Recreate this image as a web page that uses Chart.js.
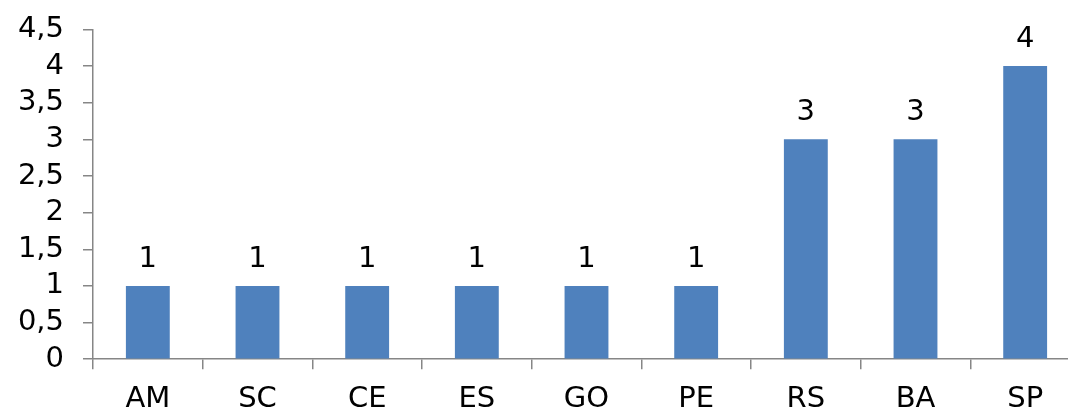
<!DOCTYPE html>
<html>
<head>
<meta charset="utf-8">
<script src="https://cdn.jsdelivr.net/npm/chart.js@4/dist/chart.umd.min.js"></script>
<style>
  html, body { margin: 0; padding: 0; background: #fff; overflow: hidden; }
  canvas { display: block; margin-top: -7px; }
</style>
</head>
<body>
<canvas id="barChart" width="1080" height="437"></canvas>
<script>
const states = ['AM', 'SC', 'CE', 'ES', 'GO', 'PE', 'RS', 'BA', 'SP'];
const counts = [1, 1, 1, 1, 1, 1, 3, 3, 4];
const yMax = 4.5;
const yStep = 0.5;

const axisGray = '#868686';
const fontFamily = '"DejaVu Sans", Verdana, sans-serif';
const fontSize = 29;

// valores acima das barras
const valueLabels = {
    id: 'valueLabels',
    afterDatasetsDraw(chart) {
        const ctx = chart.ctx;
        const meta = chart.getDatasetMeta(0);
        ctx.save();
        ctx.font = fontSize + 'px ' + fontFamily;
        ctx.fillStyle = '#000';
        ctx.textAlign = 'center';
        ctx.textBaseline = 'alphabetic';
        meta.data.forEach((bar, i) => {
            ctx.fillText(String(counts[i]), bar.x, bar.y - 19);
        });
        ctx.restore();
    }
};

new Chart(document.getElementById('barChart').getContext('2d'), {
    type: 'bar',
    data: {
        labels: states,
        datasets: [{
            data: counts,
            backgroundColor: '#4F81BD',
            borderWidth: 0,
            barPercentage: 0.4,
            categoryPercentage: 1.0
        }]
    },
    options: {
        responsive: false,
        animation: false,
        layout: { padding: { top: 10, right: 0, bottom: 0, left: 0 } },
        plugins: {
            legend: { display: false },
            tooltip: { enabled: false }
        },
        scales: {
            x: {
                border: { display: true, color: axisGray, width: 1.5 },
                grid: {
                    offset: true,
                    drawOnChartArea: false,
                    drawTicks: true,
                    tickLength: 10,
                    color: axisGray,
                    lineWidth: 1.5
                },
                ticks: {
                    color: '#000',
                    padding: 13,
                    font: { family: fontFamily, size: fontSize }
                }
            },
            y: {
                min: 0,
                max: yMax,
                afterFit(scale) { scale.width = 93; },
                border: { display: true, color: axisGray, width: 1.5 },
                grid: {
                    drawOnChartArea: false,
                    drawTicks: true,
                    tickLength: 10,
                    color: axisGray,
                    lineWidth: 1.5
                },
                ticks: {
                    stepSize: yStep,
                    autoSkip: false,
                    color: '#000',
                    padding: 19,
                    font: { family: fontFamily, size: fontSize },
                    callback: function(value) {
                        return String(value).replace('.', ','); // vírgula decimal
                    }
                }
            }
        }
    },
    plugins: [valueLabels]
});
</script>
</body>
</html>
